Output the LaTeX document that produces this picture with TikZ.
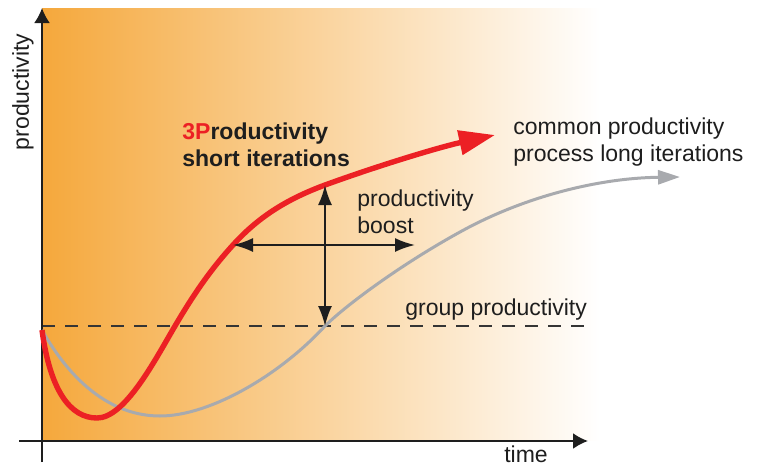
\documentclass[tikz,border=0pt]{standalone}
\usepackage{fontspec}
\setmainfont{Liberation Sans}
\usetikzlibrary{arrows.meta,positioning}
\definecolor{fastred}{RGB}{236,32,36}
\definecolor{slowgrey}{RGB}{168,170,174}
\definecolor{bgorange}{RGB}{245,168,60}
\definecolor{ink}{RGB}{30,30,30}

\begin{document}
\begin{tikzpicture}[x=0.5pt, y=-0.5pt, font=\fontsize{11.5}{13.5}\selectfont]
    \tikzset{
        lbl/.style      =   { align=left
                            , inner sep=0pt
                            , text=ink
        }
        , axis/.style   =   { line width=1pt
                            , draw=ink
                            , -{Latex[length=7.5pt, width=8pt]}
        }
        , boost/.style  =   { line width=1pt
                            , draw=ink
                            , {Latex[length=10pt, width=7pt]}-{Latex[length=10pt, width=7pt]}
        }
        , fast/.style   =   { line width=2.7pt
                            , draw=fastred
                            , -{Triangle[length=18pt, width=12pt]}
        }
        , slow/.style   =   { line width=1.5pt
                            , draw=slowgrey
                            , -{Triangle[length=11pt, width=7pt]}
        }
        , level/.style  =   { line width=1pt
                            , draw=ink!90
                            , dash pattern=on 6.5pt off 5pt
        }
    }
    \useasboundingbox (0,0) rectangle (762,467);
    \fill[left color=bgorange, right color=white] (42,8) rectangle (600,440);

    % points on the curves
    \coordinate (start)  at (42,330);
    \coordinate (fmin)   at (97,418);
    \coordinate (fcross) at (175,326);
    \coordinate (fleft)  at (233,245);
    \coordinate (ftop)   at (325,185);
    \coordinate (fend)   at (495,135);
    \coordinate (smin)   at (160,416);
    \coordinate (sfoot)  at (325,326);
    \coordinate (smid)   at (460,232);
    \coordinate (send)   at (680,177);
    \coordinate (bright) at (415,245);
    \coordinate (gleft)  at (42,326);
    \coordinate (gright) at (592,326);
    \coordinate (ybot)   at (42,462);
    \coordinate (ytop)   at (42,8);
    \coordinate (xleft)  at (19,441);
    \coordinate (xright) at (588,441);

    \node(ylab)[lbl, rotate=90]           at (23,92)   {productivity};
    \node(xlab)[lbl]                      at (526,454) {time};
    \node(fastlbl)[lbl, anchor=west, font=\fontsize{11.5}{13.5}\selectfont\bfseries]
                                          at (182,145) {\textcolor{fastred}{3P}roductivity\\short iterations};
    \node(slowlbl)[lbl, anchor=west]      at (513,142) {common productivity\\process long iterations};
    \node(boostlbl)[lbl, anchor=west]     at (357,212) {productivity\\boost};
    \node(grouplbl)[lbl, anchor=west]     at (405,310) {group productivity};

    \draw[level] (gleft) -- (gright);
    \draw[axis]  (ybot) -- (ytop);
    \draw[axis]  (xleft) -- (xright);

    \draw[slow] (start) .. controls (70,380) and (110,416) .. (smin)
                        .. controls (210,416) and (280,375) .. (sfoot)
                        .. controls (345,306) and (400,265) .. (smid)
                        .. controls (525,196) and (600,178) .. (send);
    \draw[fast] (start) .. controls (50,390) and (70,418) .. (fmin)
                        .. controls (125,418) and (155,360) .. (fcross)
                        .. controls (195,292) and (212,268) .. (fleft)
                        .. controls (260,215) and (290,198) .. (ftop)
                        .. controls (380,165) and (440,147) .. (fend);

    \draw[boost] (ftop) -- (sfoot);
    \draw[boost] (fleft) -- (bright);
\end{tikzpicture}
\end{document}
